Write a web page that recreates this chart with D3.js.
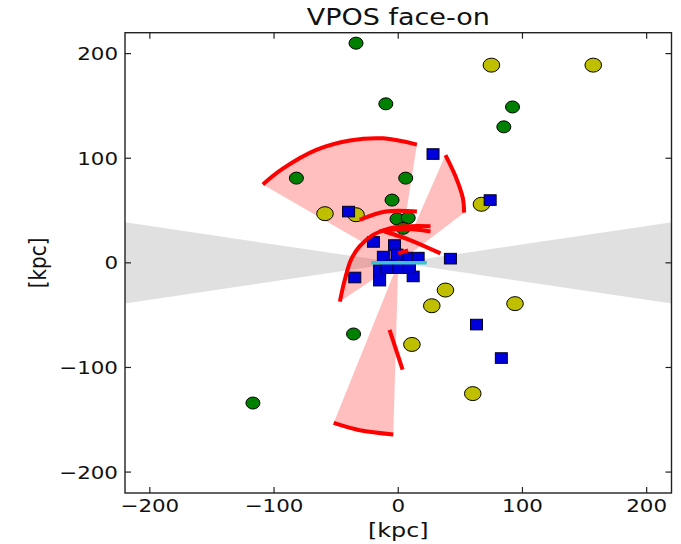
<!DOCTYPE html>
<html>
<head>
<meta charset="utf-8">
<script src="https://cdn.jsdelivr.net/npm/d3@7"></script>
<style>
  body { margin: 0; background: #fff; }
  svg { display: block; }
  text { font-family: "DejaVu Sans", sans-serif; fill: #111; }
</style>
</head>
<body>
<svg id="chart" width="681" height="544"></svg>
<script>
// Satellite positions in the VPOS face-on frame, [x, y] in kpc
const greenSats = [[-34,210],[-10,152],[92,149],[85,130],[-82,81],[6,81],[-5,60],
                   [-1,42],[8,43],[4,33],[-36,-68],[-117,-134]];
const yellowSats = [[75,189],[157,189],[-59,47],[-34,46],[67,56],[38,-26],[27,-41],
                    [94,-39],[11,-78],[60,-125]];
const blueSats = [[28,104],[74,60],[-40,49],[42,4],[-35,-14],[-15,-17],[12,-13],
                  [63,-59],[83,-91],[-20,20],[-3,17],[-12,6],[16,5],[6,5],[-1,8],
                  [-5,-2],[-15,-7],[1,-5],[9,-5],[-9,-5]];

// Outer tracks of the shaded sectors; every sector has its apex at the origin
const sectorArcs = [
  [[-109,75],[-93,90],[-66,108],[-39,117],[-12,119],[15,113]],
  [[38,103],[46,83],[52,62],[53,48]],
  [[-52,-153],[-31,-160],[-4,-164]],
  [[-47,-37],[-43,-16],[-38,3],[-31,16],[-20,27],[-7,33],[9,35],[26,35]]
];
// Stream tracks without a shaded sector
const streamTracks = [
  [[-31,41],[-10,49],[15,49]],
  [[-15,30],[5,32.5],[26,30]],
  [[-11,30],[9,22],[34,9]],
  [[0,9],[8,12]],
  [[-7,-64],[3.5,-102]]
];
// Galactic disc seen in this projection
const diskLine = [[-22,0],[23,0]];
// Half opening angle of the obscured zone, degrees
const zoneHalfAngle = 10;

const tickValues = [-200,-100,0,100,200];
const axisDomain = [-220,220];
const titleText = "VPOS face-on";
const axisLabel = "[kpc]";

const svg = d3.select("#chart");
const pL = 125, pR = 671.5, pT = 32.7, pB = 493;
const x = d3.scaleLinear().domain(axisDomain).range([pL, pR]);
const y = d3.scaleLinear().domain(axisDomain).range([pB, pT]);
const sx = 1.19; // horizontal stretch of the lettering

svg.append("clipPath").attr("id", "plotClip")
  .append("rect").attr("x", pL).attr("y", pT)
  .attr("width", pR - pL).attr("height", pB - pT);

const plot = svg.append("g").attr("clip-path", "url(#plotClip)");

// Obscured zone: a double wedge around the x axis
const ext = 260, t = Math.tan(zoneHalfAngle * Math.PI / 180);
const zonePoly = [[0,0],[ext, ext*t],[ext,-ext*t],[0,0],[-ext,-ext*t],[-ext, ext*t]];
plot.append("path")
  .attr("d", d3.line().x(d => x(d[0])).y(d => y(d[1]))(zonePoly) + "Z")
  .attr("fill", "#e0e0e0");

// Shaded sectors, one path so overlaps do not darken
const arcLine = d3.line().x(d => x(d[0])).y(d => y(d[1])).curve(d3.curveCatmullRom);
let sectorD = "";
sectorArcs.forEach(arc => {
  const a = arcLine(arc);
  sectorD += "M" + x(0) + "," + y(0) + "L" + a.slice(1) + "Z";
});
plot.append("path").attr("d", sectorD)
  .attr("fill", "red").attr("fill-opacity", 0.25);

// Satellites
plot.selectAll("ellipse.g").data(greenSats).join("ellipse")
  .attr("cx", d => x(d[0])).attr("cy", d => y(d[1]))
  .attr("rx", 7).attr("ry", 6)
  .attr("fill", "#008000").attr("stroke", "#000").attr("stroke-width", 1);
plot.selectAll("ellipse.y").data(yellowSats).join("ellipse")
  .attr("cx", d => x(d[0])).attr("cy", d => y(d[1]))
  .attr("rx", 8.3).attr("ry", 7)
  .attr("fill", "#bfbf00").attr("stroke", "#000").attr("stroke-width", 1);
plot.selectAll("rect.b").data(blueSats).join("rect")
  .attr("x", d => x(d[0]) - 6).attr("y", d => y(d[1]) - 5.3)
  .attr("width", 12).attr("height", 10.6)
  .attr("fill", "#0000dd").attr("stroke", "#000020").attr("stroke-width", 1);

// Red tracks
plot.selectAll("path.arc").data(sectorArcs.concat(streamTracks)).join("path")
  .attr("d", d => arcLine(d))
  .attr("fill", "none").attr("stroke", "#f00").attr("stroke-width", 4);

// Disc
plot.append("path")
  .attr("d", d3.line().x(d => x(d[0])).y(d => y(d[1]))(diskLine))
  .attr("stroke", "#3cc3d2").attr("stroke-width", 3.5).attr("fill", "none");

// Frame
svg.append("rect").attr("x", pL).attr("y", pT)
  .attr("width", pR - pL).attr("height", pB - pT)
  .attr("fill", "none").attr("stroke", "#222").attr("stroke-width", 1.4);

// Inward ticks on all four sides
const tl = 6;
const tk = svg.append("g").attr("stroke", "#222").attr("stroke-width", 1.2);
tickValues.forEach(v => {
  tk.append("line").attr("x1", x(v)).attr("x2", x(v)).attr("y1", pB).attr("y2", pB - tl);
  tk.append("line").attr("x1", x(v)).attr("x2", x(v)).attr("y1", pT).attr("y2", pT + tl);
  tk.append("line").attr("y1", y(v)).attr("y2", y(v)).attr("x1", pL).attr("x2", pL + tl);
  tk.append("line").attr("y1", y(v)).attr("y2", y(v)).attr("x1", pR).attr("x2", pR - tl);
});

const fmt = v => (v < 0 ? "\u2212" : "") + Math.abs(v);
const fs = 18;
svg.selectAll("text.xt").data(tickValues).join("text")
  .attr("transform", d => `translate(${x(d)},${pB + 19}) scale(${sx},1)`)
  .attr("text-anchor", "middle").attr("font-size", fs).text(fmt);
svg.selectAll("text.yt").data(tickValues).join("text")
  .attr("transform", d => `translate(${pL - 7},${y(d) + 6.5}) scale(${sx},1)`)
  .attr("text-anchor", "end").attr("font-size", fs).text(fmt);

svg.append("text")
  .attr("transform", `translate(${(pL + pR) / 2},25) scale(${sx},1)`)
  .attr("text-anchor", "middle").attr("font-size", 22.7).text(titleText);
svg.append("text")
  .attr("transform", `translate(${(pL + pR) / 2},537) scale(${sx},1)`)
  .attr("text-anchor", "middle").attr("font-size", 20).text(axisLabel);
svg.append("text")
  .attr("transform", `translate(46,${(pT + pB) / 2}) scale(${sx},1) rotate(-90)`)
  .attr("text-anchor", "middle").attr("font-size", 20).text(axisLabel);
</script>
</body>
</html>
